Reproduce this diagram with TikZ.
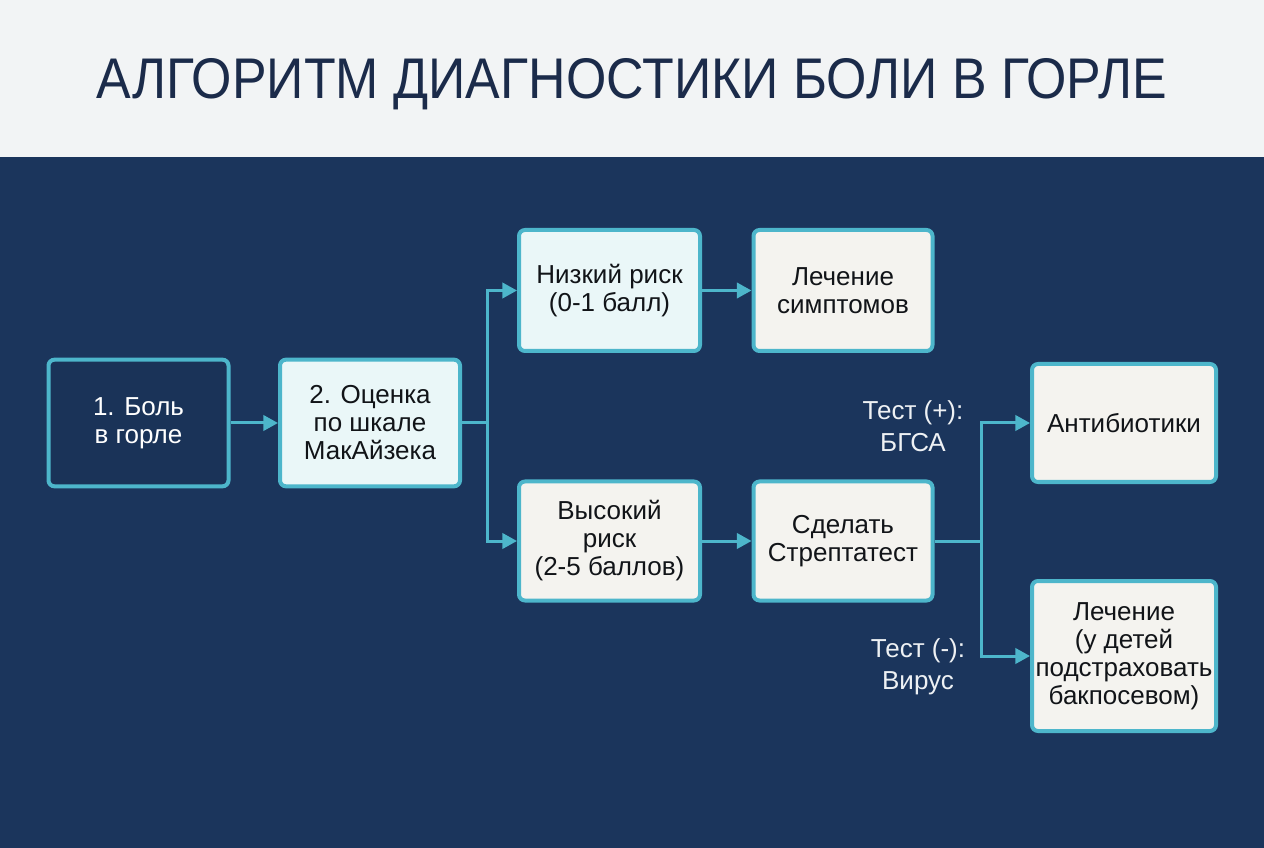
\documentclass[tikz,border=0pt]{standalone}
\usepackage{fontspec}
\setmainfont{Liberation Sans}
\usetikzlibrary{arrows.meta,positioning}
\definecolor{navy}{HTML}{1B355C}
\definecolor{band}{HTML}{F2F4F5}
\definecolor{titlec}{HTML}{1B2B4A}
\definecolor{cyanb}{HTML}{4DB6CB}
\definecolor{lightc}{HTML}{EAF7F8}
\definecolor{beige}{HTML}{F4F3EF}
\definecolor{box1fill}{HTML}{1A3358}
\definecolor{labc}{HTML}{EEF1F4}
\definecolor{textd}{HTML}{111418}
\tikzset{
  box/.style={draw=cyanb, line width=3pt, rounded corners=4.5pt, align=center,
    font=\fontsize{19.5}{21}\selectfont, text=textd, inner sep=2pt},
  wide/.style={minimum width=135pt, minimum height=95pt},
  arr/.style={draw=cyanb, line width=2.25pt, -{Triangle[length=11pt,width=11.5pt]}},
  ln/.style={draw=cyanb, line width=2.25pt},
  lbl/.style={align=center, text=labc, font=\fontsize{19.5}{24}\selectfont}
}
\begin{document}
\begin{tikzpicture}[x=0.75pt,y=-0.75pt]
\fill[navy] (0,0) rectangle (1264,848);
\fill[band] (0,0) rectangle (1264,157);
\useasboundingbox (0,0) rectangle (1264,848);
\node[text=titlec, font=\fontsize{43}{50}\selectfont] (title) at (632,84) {\scalebox{0.905}[1]{АЛГОРИТМ ДИАГНОСТИКИ БОЛИ В ГОРЛЕ}};

\node[box, wide, fill=box1fill, text=white] (b1) at (138.5,423) {1. Боль\\в горле};
\node[box, wide, fill=lightc] (b2) at (370,423) {2. Оценка\\по шкале\\МакАйзека};
\node[box, minimum width=135.75pt, minimum height=90.75pt, fill=lightc] (b3) at (609.5,290.5) {Низкий риск\\(0-1 балл)};
\node[box, minimum width=134.25pt, minimum height=90.75pt, fill=beige] (b4) at (843,290.5) {Лечение\\симптомов};
\node[box, minimum width=135.75pt, minimum height=89.25pt, fill=beige] (b5) at (609.5,541) {Высокий\\риск\\(2-5 баллов)};
\node[box, minimum width=134.25pt, minimum height=89.25pt, fill=beige] (b6) at (843,541) {Сделать\\Стрептатест};
\node[box, minimum width=138pt, minimum height=88.5pt, fill=beige] (b7) at (1124,423) {Антибиотики};
\node[box, minimum width=138pt, minimum height=112.5pt, fill=beige] (b8) at (1124,656) {Лечение\\(у детей\\подстраховать\\бакпосевом)};

\coordinate (j1) at (487,423);
\coordinate (j2) at (981,541);

\draw[arr] (b1.east) -- (b2.west);
\draw[ln] (b2.east) -- (j1);
\draw[arr] (j1) |- (b3.west);
\draw[arr] (j1) |- (b5.west);
\draw[arr] (b3.east) -- (b4.west);
\draw[arr] (b5.east) -- (b6.west);
\draw[ln] (b6.east) -- (j2);
\draw[arr] (j2) |- (b7.west);
\draw[arr] (j2) |- (b8.west);

\node[lbl] (l1) at (913,426) {Тест (+):\\БГСА};
\node[lbl] (l2) at (918,667) {Тест (-):\\Вирус};
\end{tikzpicture}
\end{document}
